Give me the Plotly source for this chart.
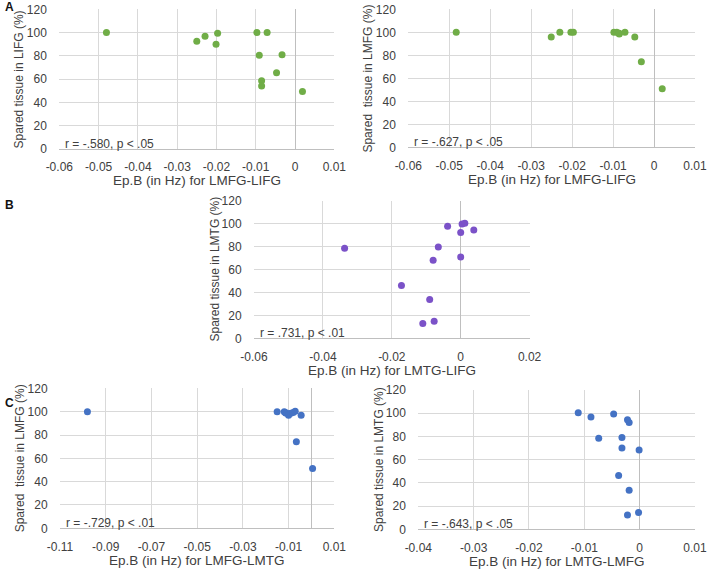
import plotly.graph_objects as go

W, H = 708, 572
FONT = "Liberation Sans, Arial, sans-serif"
TXT = "#404040"
GRID = "#d9d9d9"
AXIS = "#bfbfbf"
GREEN = "#70ad47"
PURPLE = "#7b52c8"
BLUE = "#4472c4"

# ---------------- data ----------------
# Panel A (left): Ep.B LMFG-LIFG vs spared LIFG
a1_x = [-0.0480, -0.0250, -0.0229, -0.0197, -0.0201, -0.0097, -0.0071,
        -0.0091, -0.0033, -0.0047, -0.0085, -0.0085, 0.0019]
a1_y = [100, 92.6, 96.8, 99.4, 90, 100, 100, 80.5, 81, 65.6, 58.7, 54.2, 49.3]

# Panel A (right): Ep.B LMFG-LIFG vs spared LMFG
a2_x = [-0.0483, -0.0251, -0.0230, -0.0203, -0.0197, -0.0098, -0.0091,
        -0.0085, -0.0085, -0.0071, -0.0047, -0.0031, 0.0020]
a2_y = [100, 96, 100, 100, 100, 100, 100, 98.6, 99.2, 100, 96, 74.5, 51]

# Panel B: Ep.B LMTG-LIFG vs spared LMTG
b_x = [-0.0337, -0.0172, -0.0090, -0.0110, -0.0077, -0.0080, -0.0065,
       -0.0038, 0.0000, 0.0000, 0.0004, 0.0012, 0.0038]
b_y = [78.6, 46.1, 33.9, 12.8, 14.8, 68.1, 79.7, 97.7, 92.2, 71, 99.7, 100.3, 94.5]

# Panel C (left): Ep.B LMFG-LMTG vs spared LMFG
c1_x = [-0.0980, -0.0150, -0.0119, -0.0113, -0.0109, -0.0100, -0.0090,
        -0.0080, -0.0071, -0.0045, -0.0066, 0.0005]
c1_y = [100, 100, 100, 99, 99, 97, 98.6, 99.4, 100.3, 97, 74.3, 51.4]

# Panel C (right): Ep.B LMTG-LMFG vs spared LMTG
c2_x = [-0.0111, -0.0088, -0.0047, -0.0022, -0.0019, -0.0074, -0.0032,
        -0.0032, -0.0001, -0.0038, -0.0019, -0.0022, -0.0002]
c2_y = [100.3, 96.8, 99.4, 94.3, 92, 78.4, 79, 70.1, 68.4, 46.3, 33.6, 12.4, 14.4]

# tick values / labels
y_ticks = [0, 20, 40, 60, 80, 100, 120]
y_ticklabels = ["0", "20", "40", "60", "80", "100", "120"]
a_xticks = [-0.06, -0.05, -0.04, -0.03, -0.02, -0.01, 0, 0.01]
a_xticklabels = ["-0.06", "-0.05", "-0.04", "-0.03", "-0.02", "-0.01", "0", "0.01"]
b_xticks = [-0.06, -0.04, -0.02, 0, 0.02]
b_xticklabels = ["-0.06", "-0.04", "-0.02", "0", "0.02"]
c1_xticks = [-0.11, -0.09, -0.07, -0.05, -0.03, -0.01, 0.01]
c1_xticklabels = ["-0.11", "-0.09", "-0.07", "-0.05", "-0.03", "-0.01", "0.01"]
c2_xticks = [-0.04, -0.03, -0.02, -0.01, 0, 0.01]
c2_xticklabels = ["-0.04", "-0.03", "-0.02", "-0.01", "0", "0.01"]

panels = [
    dict(x=a1_x, y=a1_y, color=GREEN, xt=a_xticks, xl=a_xticklabels,
         ytitle="Spared tissue in LIFG (%)", xtitle="Ep.B (in Hz) for LMFG-LIFG",
         stat="r = -.580, p < .05", box=(59.3, 334.3, 9.3, 149)),
    dict(x=a2_x, y=a2_y, color=GREEN, xt=a_xticks, xl=a_xticklabels,
         ytitle="Spared\u00a0 tissue in LMFG (%)", xtitle="Ep.B (in Hz) for LMFG-LIFG",
         stat="r = -.627, p < .05", box=(408.3, 695, 9.3, 147.3)),
    dict(x=b_x, y=b_y, color=PURPLE, xt=b_xticks, xl=b_xticklabels,
         ytitle="Spared tissue in LMTG (%)", xtitle="Ep.B (in Hz) for LMTG-LIFG",
         stat="r = .731, p < .01", box=(254, 529.6, 200.7, 338.3)),
    dict(x=c1_x, y=c1_y, color=BLUE, xt=c1_xticks, xl=c1_xticklabels,
         ytitle="Spared\u00a0 tissue in LMFG (%)", xtitle="Ep.B (in Hz) for LMFG-LMTG",
         stat="r = -.729, p < .01", box=(60, 334.3, 388.4, 528.3)),
    dict(x=c2_x, y=c2_y, color=BLUE, xt=c2_xticks, xl=c2_xticklabels,
         ytitle="Spared tissue in LMTG (%)", xtitle="Ep.B (in Hz) for LMTG-LMFG",
         stat="r = -.643, p < .05", box=(418.3, 695, 390, 529.3)),
]

fig = go.Figure()
layout = dict(width=W, height=H, margin=dict(l=0, r=0, t=0, b=0),
              paper_bgcolor="white", plot_bgcolor="white", showlegend=False,
              font=dict(family=FONT, size=12, color=TXT))
annotations = []

for i, p in enumerate(panels, start=1):
    sx = "" if i == 1 else str(i)
    xa, ya = "x" + sx, "y" + sx
    fig.add_trace(go.Scatter(x=p["x"], y=p["y"], mode="markers", xaxis=xa, yaxis=ya,
                             marker=dict(color=p["color"], size=7), hoverinfo="x+y"))
    x0, x1, y0, y1 = p["box"]
    layout["xaxis" + sx] = dict(
        domain=[x0 / W, x1 / W], anchor=ya, range=[p["xt"][0], p["xt"][-1]],
        tickmode="array", tickvals=p["xt"], ticktext=p["xl"],
        showgrid=True, gridcolor=GRID, gridwidth=1,
        zeroline=True, zerolinecolor=AXIS, zerolinewidth=1,
        showline=True, linecolor=AXIS, linewidth=1,
        ticks="outside", ticklen=7, tickcolor="rgba(0,0,0,0)",
        tickfont=dict(size=12, color=TXT), automargin=False, fixedrange=True)
    layout["yaxis" + sx] = dict(
        domain=[1 - y1 / H, 1 - y0 / H], anchor=xa, range=[0, 120],
        tickmode="array", tickvals=y_ticks, ticktext=y_ticklabels,
        showgrid=True, gridcolor=GRID, gridwidth=1, zeroline=False,
        showline=False, ticks="outside", ticklen=9, tickcolor="rgba(0,0,0,0)",
        tickfont=dict(size=12, color=TXT), automargin=False, fixedrange=True)
    annotations.append(dict(text=p["xtitle"], xref=xa + " domain", yref=ya + " domain",
                            x=0.5, y=0, yshift=-32, xanchor="center", yanchor="middle",
                            showarrow=False, font=dict(size=13.5, color=TXT)))
    annotations.append(dict(text=p["ytitle"], xref=xa + " domain", yref=ya + " domain",
                            x=0, y=0.5, xshift=-40, xanchor="center", yanchor="middle",
                            textangle=-90, showarrow=False, font=dict(size=12, color=TXT)))
    annotations.append(dict(text=p["stat"], xref=xa + " domain", yref=ya + " domain",
                            x=0, y=0, xshift=4, yshift=5, xanchor="left", yanchor="middle",
                            showarrow=False, font=dict(size=12, color=TXT)))

for lab, yy in [("A", 7), ("B", 205), ("C", 403)]:
    annotations.append(dict(text="<b>" + lab + "</b>", xref="paper", yref="paper",
                            x=9 / W, y=1 - yy / H, xanchor="center", yanchor="middle",
                            showarrow=False, font=dict(size=12, color="#111111")))

layout["annotations"] = annotations
fig.update_layout(**layout)
fig.write_html("out.html", config={"displayModeBar": False},
               post_script="document.body.style.margin='0';document.body.style.padding='0';")
